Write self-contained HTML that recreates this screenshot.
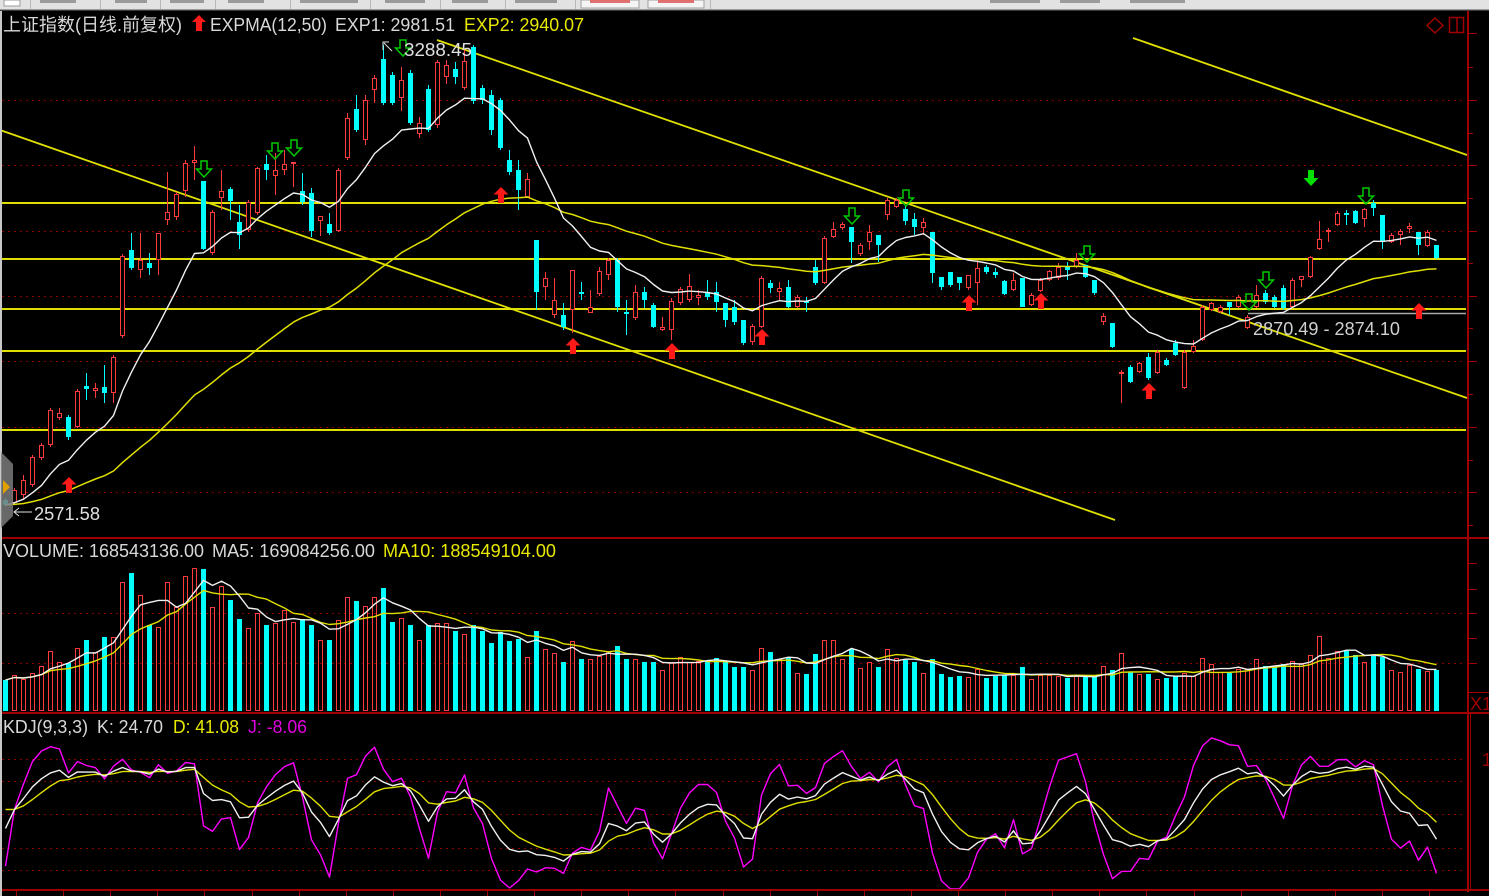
<!DOCTYPE html>
<html><head><meta charset="utf-8">
<style>
html,body{margin:0;padding:0;background:#000;width:1489px;height:896px;overflow:hidden}
svg{display:block}
text{font-family:"Liberation Sans","Noto Sans CJK SC",sans-serif;font-size:18px}
</style></head><body>
<svg id="s" width="1489" height="896" viewBox="0 0 1489 896" xmlns="http://www.w3.org/2000/svg">
<rect width="1489" height="896" fill="#000"/>
<!-- toolbar -->
<rect x="0" y="0" width="1489" height="9" fill="#e2e2e2"/>
<rect x="0" y="9" width="1489" height="1" fill="#9a9a9a"/>
<rect x="0" y="10" width="1489" height="1" fill="#3a3a3a"/>
<rect x="4" y="0" width="16" height="6" fill="#fff" stroke="#999" stroke-width="1"/>
<g fill="#b8b8b8">
<rect x="30" y="0" width="1" height="9"/><rect x="100" y="0" width="1" height="9"/><rect x="160" y="0" width="1" height="9"/><rect x="215" y="0" width="1" height="9"/><rect x="290" y="0" width="1" height="9"/><rect x="370" y="0" width="1" height="9"/><rect x="440" y="0" width="1" height="9"/><rect x="505" y="0" width="1" height="9"/><rect x="575" y="0" width="1" height="9"/><rect x="710" y="0" width="1" height="9"/>
</g>
<g fill="#9a9a9a">
<rect x="40" y="0" width="36" height="3"/><rect x="115" y="0" width="32" height="3"/><rect x="170" y="0" width="34" height="3"/><rect x="228" y="0" width="36" height="3"/><rect x="300" y="0" width="58" height="3"/><rect x="385" y="0" width="40" height="3"/><rect x="452" y="0" width="36" height="3"/><rect x="515" y="0" width="42" height="3"/>
<rect x="990" y="0" width="50" height="3"/><rect x="1060" y="0" width="40" height="3"/><rect x="1130" y="0" width="55" height="3"/>
</g>
<rect x="581" y="0" width="58" height="8" fill="#f4f4f4" stroke="#a0a0a0"/>
<rect x="648" y="0" width="56" height="8" fill="#f4f4f4" stroke="#a0a0a0"/>
<rect x="590" y="0" width="40" height="3" fill="#e07070"/>
<rect x="658" y="0" width="36" height="3" fill="#e07070"/>

<g id="grid"></g>
<g id="ylines"></g>
<g id="vol"></g>
<g id="candles"></g>
<g id="lines"></g>
<g id="arrows"></g>
<g id="frame"></g>

<!-- left edge -->
<rect x="0" y="11" width="2" height="885" fill="#c8c8c8"/>
<polygon points="1,452 13,464 13,516 1,528" fill="#7a7a7a" opacity="0.85"/>
<polygon points="3,480 10,487 3,494" fill="#e0a000"/>

<!-- labels -->
<text x="3" y="31" fill="#d8d8d8" textLength="179" lengthAdjust="spacingAndGlyphs">上证指数(日线.前复权)</text>
<polygon points="199,15 206,22 202,22 202,31 196,31 196,22 192,22" fill="#ff1a1a"/>
<text x="210" y="31" fill="#d8d8d8" textLength="117" lengthAdjust="spacingAndGlyphs">EXPMA(12,50)</text>
<text x="335" y="31" fill="#d8d8d8" textLength="120" lengthAdjust="spacingAndGlyphs">EXP1: 2981.51</text>
<text x="464" y="31" fill="#e8e800" textLength="120" lengthAdjust="spacingAndGlyphs">EXP2: 2940.07</text>

<text x="3" y="557" fill="#d8d8d8" textLength="201" lengthAdjust="spacingAndGlyphs">VOLUME: 168543136.00</text>
<text x="212" y="557" fill="#d8d8d8" textLength="163" lengthAdjust="spacingAndGlyphs">MA5: 169084256.00</text>
<text x="383" y="557" fill="#e8e800" textLength="173" lengthAdjust="spacingAndGlyphs">MA10: 188549104.00</text>

<text x="3" y="733" fill="#d8d8d8" textLength="85" lengthAdjust="spacingAndGlyphs">KDJ(9,3,3)</text>
<text x="97" y="733" fill="#d8d8d8" textLength="66" lengthAdjust="spacingAndGlyphs">K: 24.70</text>
<text x="173" y="733" fill="#e8e800" textLength="66" lengthAdjust="spacingAndGlyphs">D: 41.08</text>
<text x="248" y="733" fill="#e000e0" textLength="59" lengthAdjust="spacingAndGlyphs">J: -8.06</text>

<text x="34" y="520" fill="#e0e0e0" textLength="66" lengthAdjust="spacingAndGlyphs">2571.58</text>
<line x1="14" y1="512" x2="32" y2="512" stroke="#e0e0e0" stroke-width="1"/>
<polyline points="19,508 14,512 19,516" fill="none" stroke="#e0e0e0" stroke-width="1"/>
<text x="404" y="56" fill="#e0e0e0" textLength="68" lengthAdjust="spacingAndGlyphs">3288.45</text>
<polyline points="389,42 383,42 383,50" fill="none" stroke="#e0e0e0" stroke-width="1"/>
<line x1="384" y1="43" x2="392" y2="51" stroke="#e0e0e0" stroke-width="1"/>
<text x="1253" y="335" fill="#d0d0d0" textLength="147" lengthAdjust="spacingAndGlyphs">2870.49 - 2874.10</text>

<!-- top right icons -->
<polygon points="1435,18 1443,25.5 1435,33 1427,25.5" fill="none" stroke="#a00000" stroke-width="1.5"/>
<rect x="1449.5" y="17.5" width="14" height="15" fill="none" stroke="#a00000" stroke-width="1.5"/>
<line x1="1457" y1="17.5" x2="1457" y2="32.5" stroke="#a00000" stroke-width="1.5"/>
<text x="1470" y="710" fill="#a00000" font-size="18">X1</text>
<text x="1482" y="766" fill="#a00000" font-size="18">1</text>
</svg>
<script>
const NS='http://www.w3.org/2000/svg';
function el(tag,attrs,parent){const e=document.createElementNS(NS,tag);for(const k in attrs)e.setAttribute(k,attrs[k]);parent.appendChild(e);return e;}
const raw=`c 500 505 498 506
r 490 503 488 505
r 480 495 475 500
r 457 485 455 487
r 445 458 443 460
r 410 445 408 447
r 413 418 408 420
c 417 437 415 440
r 391 427 389 428
c 386 389 373 400
r 388 391 383 398
c 387 393 365 403
r 357 393 355 403
r 256 336 254 338
c 250 268 233 270
r 260 270 233 278
c 263 268 253 275
r 233 260 233 275
r 212 220 172 225
r 194 217 192 220
r 163 191 160 197
r 160 163 146 180
c 181 249 181 250
r 212 253 210 255
r 191 198 170 210
c 189 201 187 220
c 222 235 205 249
r 202 230 200 232
r 168 213 167 215
c 164 170 155 180
r 170 176 153 195
r 164 170 150 175
r 162 164 162 187
c 191 202 173 205
c 193 231 188 237
r 216 221 216 236
c 224 233 213 235
r 170 231 168 232
r 118 158 113 160
c 109 130 95 132
r 100 140 95 145
r 78 90 75 103
c 59 103 45 105
c 75 103 72 105
r 80 98 67 111
c 73 123 70 125
r 123 134 117 138
c 89 130 85 132
r 62 125 60 128
r 65 77 60 84
c 69 77 62 84
r 61 88 50 90
c 47 101 45 104
c 88 100 85 104
c 95 130 90 135
c 100 148 98 150
c 160 172 150 175
c 170 190 160 210
r 179 197 173 198
c 240 292 240 310
r 278 287 272 300
r 300 315 278 318
c 315 327 303 330
r 270 310 270 333
c 292 294 282 300
r 307 313 290 313
r 271 294 267 296
r 260 275 258 280
c 260 307 258 312
c 312 314 300 335
r 292 318 285 320
c 292 300 287 308
c 305 327 303 328
r 327 330 317 331
r 301 330 298 340
r 289 303 287 305
r 286 300 274 302
r 295 298 290 305
c 292 297 280 300
c 292 302 282 312
c 303 320 303 327
c 307 322 300 325
c 320 343 320 345
r 326 342 324 345
r 278 327 276 328
c 283 288 280 293
r 288 292 282 300
c 287 307 280 308
r 297 307 295 308
c 301 303 297 312
c 267 283 260 285
r 238 283 236 284
r 229 237 222 238
r 224 228 222 230
c 227 242 227 263
r 245 254 243 256
r 232 242 225 250
c 235 245 235 262
r 200 215 198 220
r 200 207 198 208
c 209 221 205 225
c 219 227 213 235
r 222 228 218 235
c 232 273 232 283
c 277 287 277 290
c 272 285 272 287
c 277 283 277 290
r 275 288 275 290
r 268 283 260 305
c 267 272 265 274
c 272 275 268 278
c 281 294 280 295
r 280 290 273 291
c 278 307 278 307
r 295 305 293 306
r 280 291 278 292
r 271 280 270 281
r 267 278 263 280
c 267 270 262 280
r 260 267 253 268
c 265 277 265 278
c 280 293 280 295
r 316 322 313 325
c 323 347 323 348
r 372 374 370 403
c 367 382 365 383
r 363 372 362 373
c 357 378 353 380
r 352 373 350 374
c 360 365 358 366
c 343 355 340 356
r 352 388 350 389
r 346 352 340 353
r 307 340 305 341
r 303 310 302 311
r 307 312 305 313
c 302 307 302 315
r 297 307 295 308
r 317 328 315 329
r 295 307 285 308
c 293 302 290 304
c 297 307 295 308
c 288 308 285 310
r 280 307 278 308
r 276 280 276 287
r 257 277 256 278
r 239 249 221 250
r 230 232 228 242
r 213 225 211 226
c 213 215 210 225
c 211 223 210 224
r 209 219 208 227
c 203 208 200 216
c 215 242 215 249
r 235 242 233 243
r 231 235 229 245
r 226 229 223 233
c 232 245 232 255
r 232 246 230 247
c 245 258 245 259`;
const D=raw.trim().split('\n').map(l=>{const p=l.trim().split(/\s+/);return [p[0],+p[1],+p[2],+p[3],+p[4]];});
const V=[680,675,679,673,666,651,662,663,648,640,652,637,637,582,573,595,625,627,582,607,576,568,569,607,586,600,619,628,613,625,623,610,622,619,625,640,640,620,597,601,606,597,588,622,618,625,640,625,623,623,631,634,625,631,643,
632,641,639,657,631,649,653,662,641,659,659,656,651,646,659,659,662,662,670,662,657,662,661,661,658,662,667,667,670,648,652,659,657,673,674,654,640,640,659,649,668,662,667,649,658,660,
662,673,659,674,677,676,677,669,678,676,675,675,667,679,675,675,676,678,676,677,677,666,670,653,672,674,674,679,678,676,673,676,658,664,672,673,669,669,659,666,667,664,661,663,655,636,658,651,651,655,662,656,657,670,672,665,669,671,670];
const RED='#ff3c3c',CY='#00ffff';
const X=i=>5+9*i;

// grid
const gG=document.getElementById('grid');
[100,165,231,296,361,427,492,613,663,759,781,814,848,870].forEach(y=>{
  el('line',{x1:2,y1:y+.5,x2:1466,y2:y+.5,stroke:'#8a0000','stroke-width':1,'stroke-dasharray':'2 4'},gG);
});

// yellow lines
const gY=document.getElementById('ylines');
[203,259,309,351,430].forEach(y=>{
  el('line',{x1:2,y1:y,x2:1466,y2:y,stroke:'#e0e000','stroke-width':2},gY);
});
el('line',{x1:0,y1:130,x2:1115,y2:520,stroke:'#e0e000','stroke-width':1.8},gY);
el('line',{x1:437,y1:40,x2:1467,y2:398,stroke:'#e0e000','stroke-width':1.8},gY);
el('line',{x1:1133,y1:38,x2:1467,y2:155,stroke:'#e0e000','stroke-width':1.8},gY);
el('line',{x1:1248,y1:313.5,x2:1466,y2:313.5,stroke:'#a8a8a8','stroke-width':1.5},gY);

// candles
const gC=document.getElementById('candles');
D.forEach((d,i)=>{
  const x=X(i),up=d[0]==='r',col=up?RED:CY;
  const bt=d[1],bb=d[2],wt=d[3],wb=d[4];
  if(up){
    if(wt<bt)el('rect',{x:x,y:wt,width:1,height:bt-wt,fill:col},gC);
    if(wb>bb)el('rect',{x:x,y:bb,width:1,height:wb-bb,fill:col},gC);
    el('rect',{x:x-1.5,y:bt+.5,width:4,height:Math.max(bb-bt-1,1),fill:'#000',stroke:col,'stroke-width':1},gC);
  }else{
    el('rect',{x:x,y:wt,width:1,height:Math.max(wb-wt,1),fill:col},gC);
    el('rect',{x:x-2,y:bt,width:5,height:Math.max(bb-bt,2),fill:col},gC);
  }
});

// volume
const gV=document.getElementById('vol');
V.forEach((t,i)=>{
  const x=X(i),up=D[i][0]==='r';
  if(up) el('rect',{x:x-1.5,y:t+.5,width:4,height:711-t-1,fill:'none',stroke:RED,'stroke-width':1},gV);
  else el('rect',{x:x-2,y:t,width:5,height:711-t,fill:CY},gV);
});

// lines
const gL=document.getElementById('lines');
function poly(pts,col,w){el('polyline',{points:pts.map(p=>p[0].toFixed(1)+','+p[1].toFixed(1)).join(' '),fill:'none',stroke:col,'stroke-width':w,'stroke-linejoin':'round'},gL);}
let e1=505,e2=505;const p1=[],p2=[];
D.forEach((d,i)=>{const c=d[0]==='r'?d[1]:d[2];e1+=(c-e1)*2/13;e2+=(c-e2)*2/51;p1.push([X(i)+.5,e1]);p2.push([X(i)+.5,e2]);});
poly(p2,'#e0e000',1.5);poly(p1,'#f0f0f0',1.4);
// volume MA
const h=V.map(t=>711-t);const m5=[],m10=[];
h.forEach((v,i)=>{const a=h.slice(Math.max(0,i-4),i+1),b=h.slice(Math.max(0,i-9),i+1);
 m5.push([X(i)+.5,711-a.reduce((s,x)=>s+x,0)/a.length]);m10.push([X(i)+.5,711-b.reduce((s,x)=>s+x,0)/b.length]);});
poly(m10,'#e0e000',1.4);poly(m5,'#f0f0f0',1.4);
// KDJ
let K=50,Dv=63;const pk=[],pd=[],pj=[];
const ky=v=>Math.max(716,Math.min(889,870-v*1.11));
D.forEach((d,i)=>{
  const s=D.slice(Math.max(0,i-8),i+1);
  const hi=Math.min(...s.map(q=>q[3])),lo=Math.max(...s.map(q=>q[4]));
  const c=d[0]==='r'?d[1]:d[2];
  const rsv=lo===hi?50:(lo-c)/(lo-hi)*100;
  K=K*2/3+rsv/3;Dv=Dv*2/3+K/3;const J=3*K-2*Dv;
  pk.push([X(i)+.5,ky(K)]);pd.push([X(i)+.5,ky(Dv)]);pj.push([X(i)+.5,ky(J)]);
});
poly(pj,'#ff00ff',1.4);poly(pd,'#e0e000',1.4);poly(pk,'#f0f0f0',1.4);

// arrows
const gA=document.getElementById('arrows');
function up(cx,t){el('polygon',{points:`${cx},${t} ${cx+7.5},${t+7.5} ${cx+3},${t+7.5} ${cx+3},${t+16} ${cx-3},${t+16} ${cx-3},${t+7.5} ${cx-7.5},${t+7.5}`,fill:'#ff1a1a'},gA);}
function dn(cx,t,filled){el('polygon',{points:`${cx-3},${t} ${cx+3},${t} ${cx+3},${t+8} ${cx+7.5},${t+8} ${cx},${t+16} ${cx-7.5},${t+8} ${cx-3},${t+8}`,fill:filled?'#00e000':'none',stroke:'#00c800','stroke-width':filled?0:1.5},gA);}
[[69,477],[501,187],[573,338],[672,343],[762,329],[969,295],[1041,293],[1149,383],[1419,303]].forEach(a=>up(a[0],a[1]));
[[204,161],[275,143],[294,140],[403,40],[852,208],[906,190],[1087,246],[1249,294],[1266,272],[1366,188]].forEach(a=>dn(a[0],a[1],false));
dn(1311,170,true);

// frame
const gF=document.getElementById('frame');
const R='#a00000';
el('rect',{x:1467,y:11,width:2,height:881,fill:R},gF);
el('rect',{x:0,y:537,width:1489,height:2,fill:R},gF);
el('rect',{x:0,y:712,width:1489,height:2,fill:R},gF);
el('rect',{x:0,y:889,width:1489,height:2,fill:R},gF);
el('rect',{x:1469,y:692,width:20,height:1,fill:R},gF);
el('rect',{x:1470,y:714,width:1,height:176,fill:R},gF);
[33,100,165,231,296,361,427,492].forEach(y=>el('rect',{x:1469,y:y,width:8,height:1,fill:R},gF));
[67,133,198,263,328,394,460,525].forEach(y=>el('rect',{x:1469,y:y,width:4,height:1,fill:R},gF));
[563,589,613,638,663].forEach(y=>el('rect',{x:1469,y:y,width:8,height:1,fill:R},gF));
for(let x=16;x<1466;x+=47.1){el('rect',{x:Math.round(x),y:891,width:1,height:5,fill:R},gF);}
</script>
</body></html>
